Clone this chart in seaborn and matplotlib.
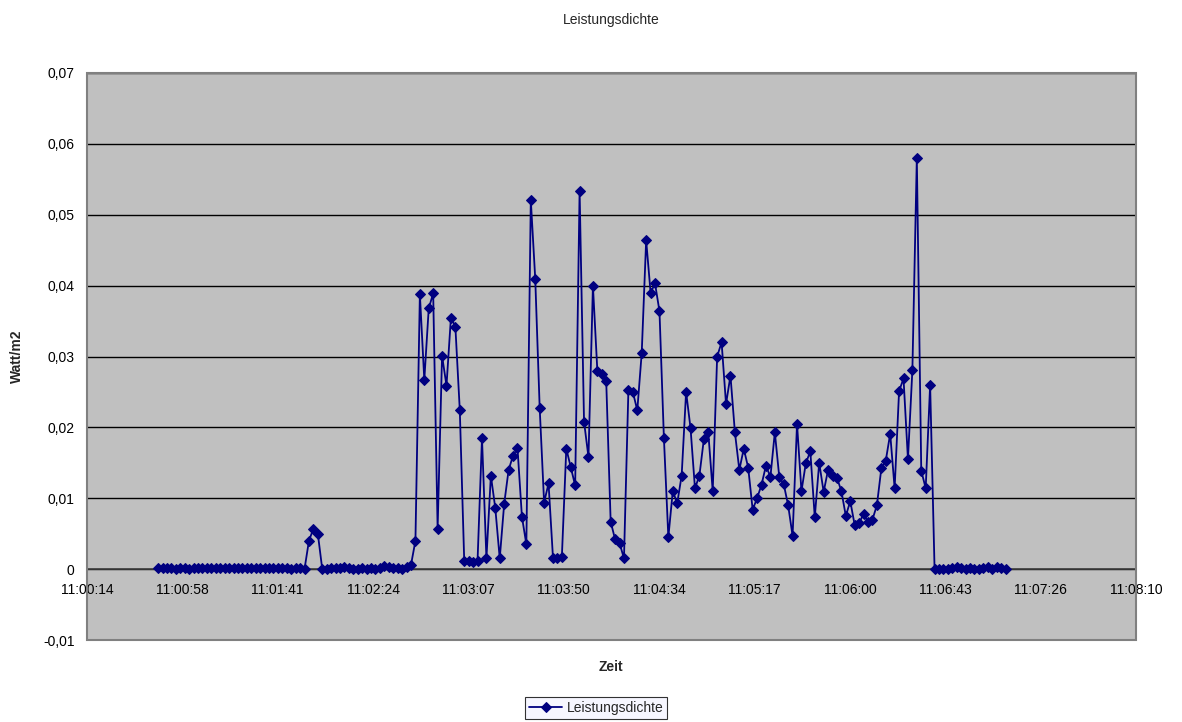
import pandas as pd
import seaborn as sns
import matplotlib.pyplot as plt
from matplotlib.ticker import FuncFormatter, MultipleLocator
from matplotlib.patches import Rectangle

# Messreihe: Start, Abtastintervall (s) und Werte in Watt/m2
start_time = "11:00:46.6"
step_s = 2.01
leistung = [
    0.0002, 0.0002, 0.0002, 0.0001, 0.0000, 0.0001, 0.0002, 0.0000, 0.0001, 0.0002,
    0.0002, 0.0001, 0.0001, 0.0001, 0.0001, 0.0001, 0.0001, 0.0001, 0.0001, 0.0001,
    0.0001, 0.0001, 0.0001, 0.0001, 0.0001, 0.0001, 0.0001, 0.0001, 0.0001, 0.0001,
    0.0000, 0.0001, 0.0001, 0.0000, 0.0040, 0.0057, 0.0050, 0.0000, 0.0000, 0.0001,
    0.0002, 0.0001, 0.0003, 0.0001, 0.0000, 0.0000, 0.0001, 0.0000, 0.0001, 0.0000,
    0.0002, 0.0004, 0.0003, 0.0001, 0.0001, 0.0000, 0.0003, 0.0006, 0.0040, 0.0388,
    0.0267, 0.0368, 0.0389, 0.0057, 0.0301, 0.0259, 0.0355, 0.0342, 0.0224, 0.0011,
    0.0012, 0.0010, 0.0012, 0.0185, 0.0015, 0.0132, 0.0086, 0.0015, 0.0092, 0.0140,
    0.0160, 0.0171, 0.0074, 0.0035, 0.0521, 0.0410, 0.0228, 0.0094, 0.0121, 0.0016,
    0.0016, 0.0017, 0.0170, 0.0144, 0.0118, 0.0534, 0.0208, 0.0158, 0.0400, 0.0280,
    0.0276, 0.0265, 0.0067, 0.0042, 0.0037, 0.0015, 0.0253, 0.0250, 0.0224, 0.0305,
    0.0464, 0.0390, 0.0403, 0.0364, 0.0185, 0.0045, 0.0110, 0.0093, 0.0132, 0.0250,
    0.0199, 0.0114, 0.0132, 0.0183, 0.0193, 0.0110, 0.0300, 0.0320, 0.0233, 0.0273,
    0.0193, 0.0140, 0.0170, 0.0143, 0.0084, 0.0100, 0.0119, 0.0146, 0.0130, 0.0193,
    0.0130, 0.0120, 0.0090, 0.0047, 0.0205, 0.0110, 0.0150, 0.0166, 0.0073, 0.0150,
    0.0109, 0.0140, 0.0131, 0.0129, 0.0110, 0.0075, 0.0096, 0.0062, 0.0065, 0.0078,
    0.0066, 0.0070, 0.0090, 0.0142, 0.0153, 0.0191, 0.0114, 0.0251, 0.0269, 0.0155,
    0.0281, 0.0580, 0.0139, 0.0114, 0.0260, 0.0000, 0.0000, 0.0000, 0.0000, 0.0001,
    0.0003, 0.0001, 0.0000, 0.0002, 0.0000, 0.0000, 0.0001, 0.0003, 0.0000, 0.0003,
    0.0001, 0.0000,
]

h, m, s = start_time.split(":")
t0 = int(h) * 3600 + int(m) * 60 + float(s)
df = pd.DataFrame({
    "Zeit": [t0 + i * step_s for i in range(len(leistung))],
    "Leistungsdichte": leistung,
})

# Excel-Achse: 0,4585 .. 0,4640 Tage, Hauptintervall 0,0005 Tage
x_min, x_max, x_step = 0.4585 * 86400, 0.4640 * 86400, 0.0005 * 86400

sns.set_style("white")
plt.rcParams["font.family"] = ["Liberation Sans", "DejaVu Sans"]

fig = plt.figure(figsize=(11.82, 7.22), dpi=100)
ax = fig.add_axes([87 / 1182, 1 - 640 / 722, (1136 - 87) / 1182, (640 - 73) / 722])
ax.set_facecolor("#c0c0c0")

sns.lineplot(data=df, x="Zeit", y="Leistungsdichte", ax=ax, color="#000080",
             marker="D", markersize=5.5, markeredgecolor="#000080", linewidth=1.3,
             label="Leistungsdichte", legend=False, zorder=3)

ax.set_xlim(x_min, x_max)
ax.set_ylim(-0.01, 0.07)
ax.xaxis.set_major_locator(MultipleLocator(x_step))
ax.yaxis.set_major_locator(MultipleLocator(0.01))


def fmt_time(v, pos):
    v = int(round(v))
    return f"{v // 3600:02d}:{v % 3600 // 60:02d}:{v % 60:02d}"


ax.xaxis.set_major_formatter(FuncFormatter(fmt_time))
ax.yaxis.set_major_formatter(FuncFormatter(lambda v, p: f"{v:.2f}".replace(".", ",").replace("-0,00", "0").replace("0,00", "0")))

ax.grid(axis="y", color="black", linewidth=1)
ax.set_axisbelow(True)

for sp in ["top", "right", "left"]:
    ax.spines[sp].set_visible(False)
ax.spines["bottom"].set_position(("data", 0))
ax.spines["bottom"].set_color("#404040")
ax.spines["bottom"].set_linewidth(1.2)
ax.add_patch(Rectangle((0, 0), 1, 1, transform=ax.transAxes, fill=False,
                       edgecolor="#808080", linewidth=1.5, clip_on=False, zorder=5))

ax.tick_params(axis="x", direction="out", length=5, width=1, colors="black",
               labelsize=10, pad=5)
ax.tick_params(axis="y", direction="out", length=5, width=1, colors="black",
               labelsize=10, pad=4)
ax.tick_params(axis="y", color="#808080")

ax.set_xlabel("")
ax.set_ylabel("")
fig.text(17 / 1182, 1 - 356 / 722, "Watt/m2", rotation=90, ha="center", va="center",
         fontsize=10, fontweight="bold")
fig.text(611 / 1182, 1 - 667 / 722, "Zeit", ha="center", va="center",
         fontsize=10, fontweight="bold")
fig.text(611 / 1182, 1 - 20 / 722, "Leistungsdichte", ha="center", va="center",
         fontsize=10)

handles, labels = ax.get_legend_handles_labels()
leg = fig.legend(handles, labels, loc="center", bbox_to_anchor=(596 / 1182, 1 - 708 / 722),
                 frameon=True, fancybox=False, fontsize=10, handlelength=2.4,
                 borderpad=0.3, handletextpad=0.3, borderaxespad=0)
leg.get_frame().set_edgecolor("black")
leg.get_frame().set_facecolor("#f4f4ff")
leg.get_frame().set_linewidth(0.8)

fig.savefig("out.png", dpi=100, facecolor="white")
